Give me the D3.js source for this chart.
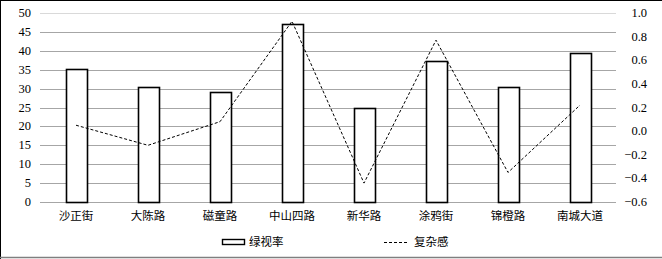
<!DOCTYPE html>
<html>
<head>
<meta charset="utf-8">
<script src="https://cdn.jsdelivr.net/npm/d3@7"></script>
<style>
  body { margin: 0; background: #fff; }
  svg text { fill: #000; }
  .num { font-family: "Liberation Serif", "DejaVu Serif", serif; font-size: 12.5px; }
  .cjk { font-family: "Noto Sans CJK SC", sans-serif; font-size: 11.5px; }
</style>
</head>
<body>
<div id="container"></div>
<script>
var width = 662;
var height = 259;

// data
var streets = ["沙正街", "大陈路", "磁童路", "中山四路", "新华路", "涂鸦街", "锦橙路", "南城大道"];
var greenView = [35.3, 30.3, 29.2, 47.0, 25.0, 37.2, 30.4, 39.3];
var complexity = [0.05, -0.12, 0.08, 0.93, -0.44, 0.77, -0.35, 0.22];
var leftTicks = [0, 5, 10, 15, 20, 25, 30, 35, 40, 45, 50];
var rightTicks = [-0.6, -0.4, -0.2, 0.0, 0.2, 0.4, 0.6, 0.8, 1.0];

var margin = { left: 40, right: 46, top: 13, bottom: 57 };

var svg = d3.select("div#container")
  .append("svg")
  .attr("width", width)
  .attr("height", height);

// frame: dark top/left, grey bottom
svg.append("line").attr("x1", 0).attr("x2", width).attr("y1", 0.5).attr("y2", 0.5).attr("stroke", "#000");
svg.append("line").attr("x1", 0.5).attr("x2", 0.5).attr("y1", 0).attr("y2", height).attr("stroke", "#000");
svg.append("line").attr("x1", 0).attr("x2", width).attr("y1", 257.5).attr("y2", 257.5).attr("stroke", "#7f7f7f").attr("stroke-width", 1.5);

var x = d3.scaleBand()
  .domain(streets)
  .range([margin.left, width - margin.right]);

var yL = d3.scaleLinear().domain([0, 50]).range([height - margin.bottom, margin.top]);
var yR = d3.scaleLinear().domain([-0.6, 1.0]).range([height - margin.bottom, margin.top]);

// gridlines
svg.append("g")
  .selectAll("line")
  .data(leftTicks)
  .enter()
  .append("line")
  .attr("x1", margin.left)
  .attr("x2", width - margin.right)
  .attr("y1", d => Math.round(yL(d)) + 0.5)
  .attr("y2", d => Math.round(yL(d)) + 0.5)
  .attr("stroke", d => d === 50 ? "#d9d9d9" : "#a6a6a6")
  .attr("stroke-width", 1);

// left axis labels
svg.append("g")
  .selectAll("text")
  .data(leftTicks)
  .enter()
  .append("text")
  .attr("class", "num")
  .attr("x", 31)
  .attr("y", d => yL(d) + 4)
  .attr("text-anchor", "end")
  .text(d => d);

// right axis labels
svg.append("g")
  .selectAll("text")
  .data(rightTicks)
  .enter()
  .append("text")
  .attr("class", "num")
  .attr("x", 647)
  .attr("y", d => yR(d) + 4)
  .attr("text-anchor", "end")
  .text(d => d3.format(".1f")(d).replace("-", "−"));

// bars
var barW = 21;
svg.append("g")
  .selectAll("rect")
  .data(greenView)
  .enter()
  .append("rect")
  .attr("x", (d, i) => Math.round(x(streets[i]) + x.bandwidth() / 2 - barW / 2) + 0.5)
  .attr("y", d => Math.round(yL(d)) + 0.5)
  .attr("width", barW)
  .attr("height", d => Math.round(yL(0)) - Math.round(yL(d)))
  .attr("fill", "#fff")
  .attr("stroke", "#000")
  .attr("stroke-width", 1.6);

// category labels
svg.append("g")
  .selectAll("text")
  .data(streets)
  .enter()
  .append("text")
  .attr("class", "cjk")
  .attr("x", d => x(d) + x.bandwidth() / 2)
  .attr("y", 220)
  .attr("text-anchor", "middle")
  .text(d => d);

// line
var line = d3.line()
  .x((d, i) => x(streets[i]) + x.bandwidth() / 2)
  .y(d => yR(d));

svg.append("path")
  .datum(complexity)
  .attr("d", line)
  .attr("fill", "none")
  .attr("stroke", "#000")
  .attr("stroke-width", 1)
  .attr("stroke-dasharray", "3,2");

// legend
var lg = svg.append("g");
lg.append("rect")
  .attr("x", 222.5).attr("y", 239.5)
  .attr("width", 22).attr("height", 5)
  .attr("fill", "#fff").attr("stroke", "#000").attr("stroke-width", 1.4);
lg.append("text")
  .attr("class", "cjk")
  .attr("x", 249).attr("y", 246)
  .text("绿视率");
lg.append("line")
  .attr("x1", 384).attr("x2", 407)
  .attr("y1", 242.5).attr("y2", 242.5)
  .attr("stroke", "#000")
  .attr("stroke-dasharray", "3,2");
lg.append("text")
  .attr("class", "cjk")
  .attr("x", 414).attr("y", 246)
  .text("复杂感");
</script>
</body>
</html>
